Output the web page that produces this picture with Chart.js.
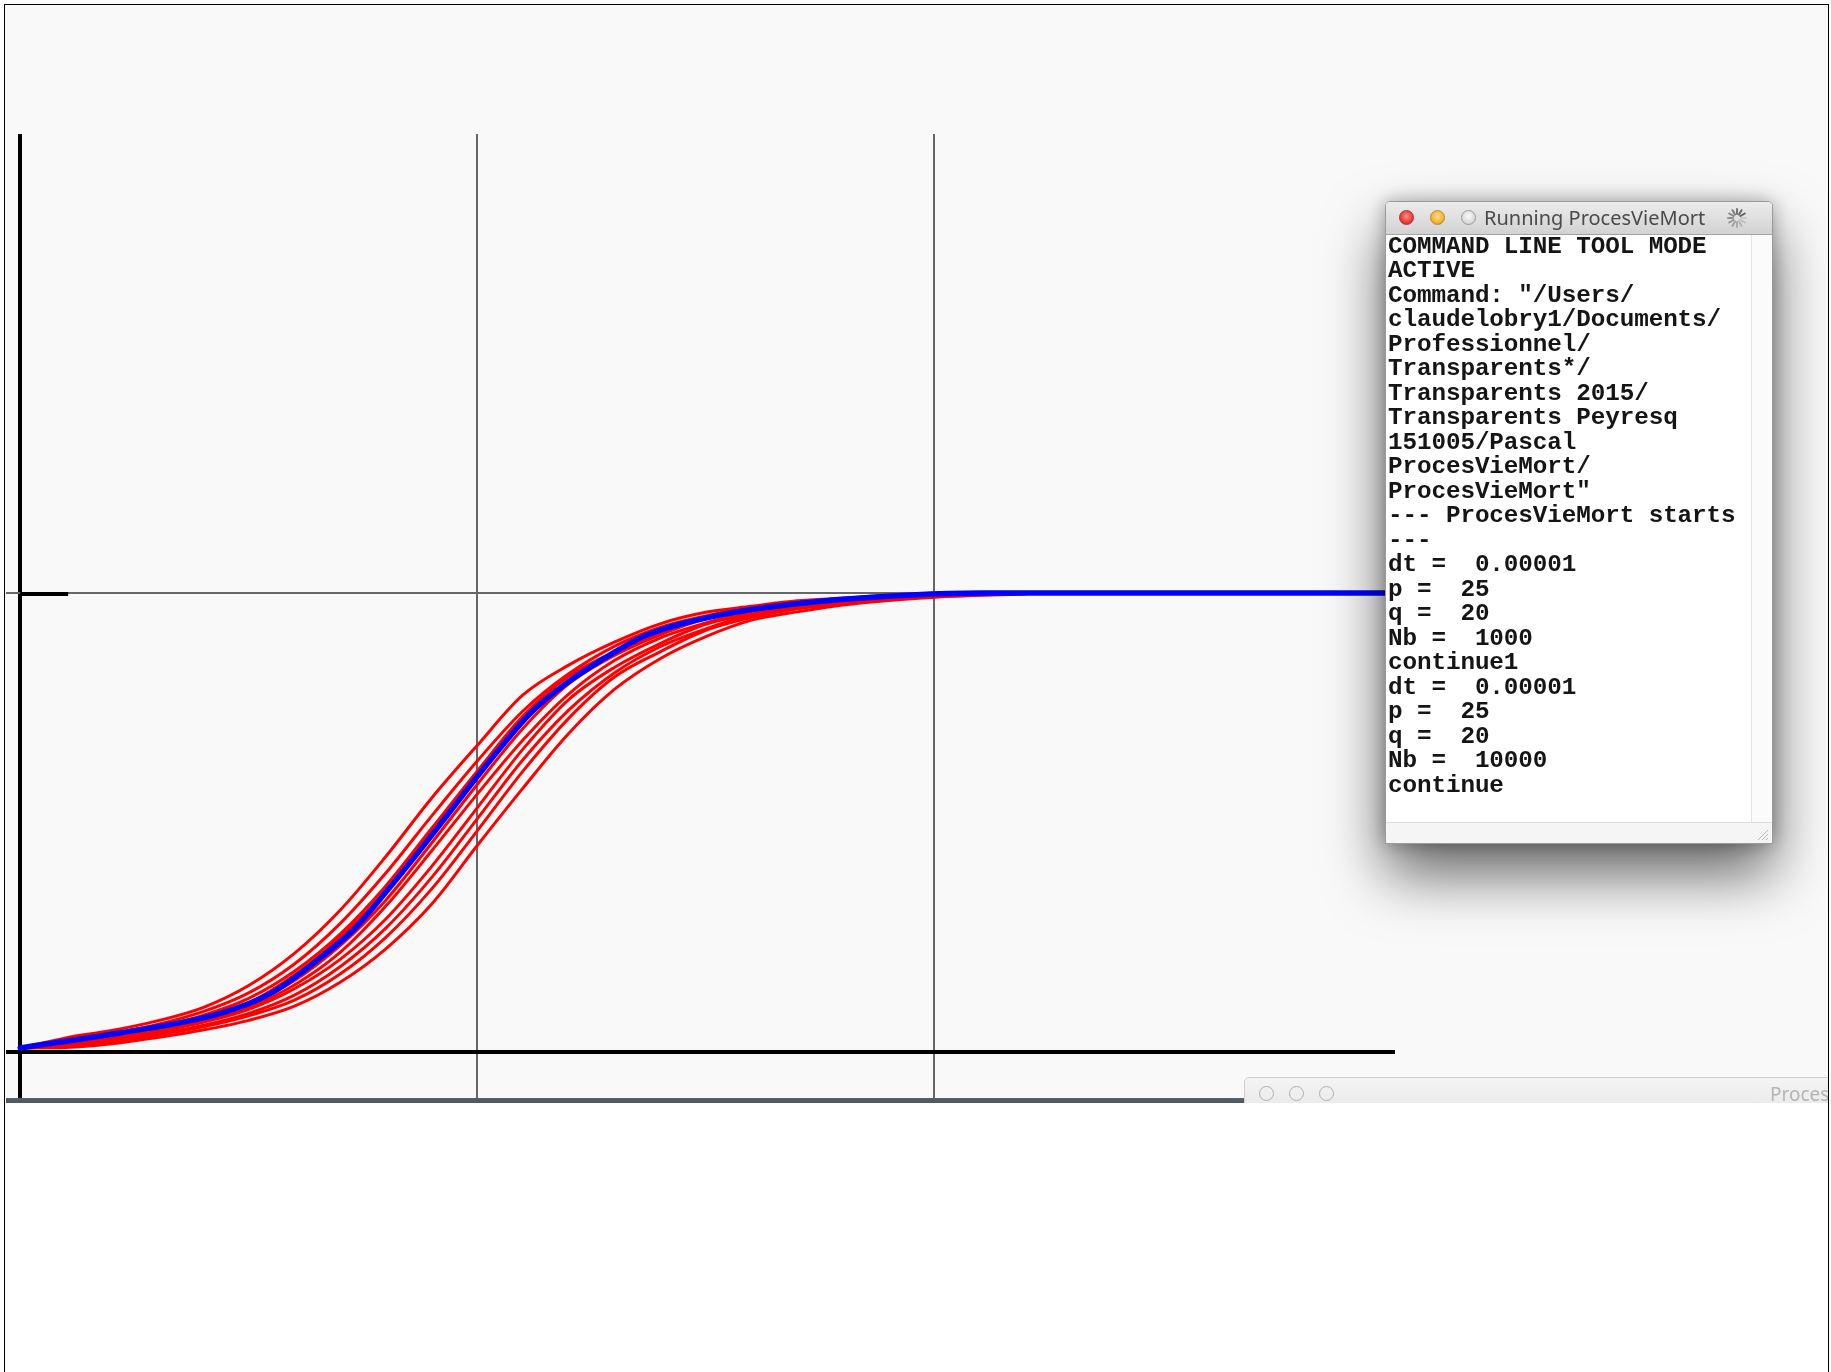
<!DOCTYPE html>
<html>
<head>
<meta charset="utf-8">
<title>ProcesVieMort</title>
<script src="https://cdn.jsdelivr.net/npm/chart.js@4.4.0/dist/chart.umd.min.js"></script>
<style>
  html, body { margin: 0; padding: 0; background: #fff; }
  body { width: 1831px; height: 1372px; position: relative; overflow: hidden; }
  #frame { position: absolute; left: 4px; top: 4px; width: 1823px; height: 1380px;
    border-left: 1px solid #000; border-top: 1px solid #000; border-right: 1px solid #000; }
  #screen { position: absolute; left: 5px; top: 5px; width: 1823px; height: 1098px;
    background: #f9f9f9; overflow: hidden; }
  #plot { position: absolute; left: -5px; top: -5px; }
  #bar { position: absolute; left: 1px; top: 1093px; width: 1238px; height: 7px;
    background: linear-gradient(#56616b, #46515b); }
  #term { position: absolute; left: 1380px; top: 196px; width: 386px; height: 641px;
    background: #fff; border: 1px solid #9a9a9a; border-radius: 5px 5px 0 0;
    box-shadow: 0 30px 60px rgba(0,0,0,0.6), 0 0 18px rgba(0,0,0,0.3); overflow: hidden; }
  #term .title { height: 32px; background: linear-gradient(#ececec, #d2d2d2);
    border-bottom: 1px solid #a3a3a3; position: relative;
    font-family: "Noto Sans", "DejaVu Sans", sans-serif; font-size: 20px; color: #4a4a4a; }
  .dot { position: absolute; top: 8px; width: 15px; height: 15px; border-radius: 50%; box-sizing: border-box; }
  .title span.t { position: absolute; left: 98px; top: 2px; }
  #term .body { position: absolute; left: 0; top: 33px; width: 364px; height: 588px;
    padding-left: 2px; font-family: "Liberation Mono", "Courier New", monospace;
    font-weight: bold; font-size: 24.3px; line-height: 24.48px; color: #151515;
    white-space: pre; overflow: hidden; letter-spacing: -0.1px; }
  #term .vscroll { position: absolute; right: 0; top: 33px; width: 20px; height: 588px;
    background: #fbfbfb; border-left: 1px solid #e4e4e4; }
  #term .status { position: absolute; left: 0; bottom: 0; width: 100%; height: 20px;
    background: #f5f5f5; border-top: 1px solid #dcdcdc; }
  #back { position: absolute; left: 1239px; top: 1072px; width: 620px; height: 40px;
    background: linear-gradient(#f4f4f4, #e6e6e6); border: 1px solid #cfcfcf; border-radius: 5px 5px 0 0;
    font-family: "Noto Sans", "DejaVu Sans", sans-serif; font-size: 19px; color: #b4b4b4; }
  #back .ring { position: absolute; top: 8px; width: 13px; height: 13px; border-radius: 50%;
    border: 1.5px solid #b0b0b0; }
</style>
</head>
<body>
<div id="frame"></div>
<div id="screen">
  <canvas id="plot" width="1831" height="1110"></canvas>
  <div id="bar"></div>
  <div id="term">
    <div class="title">
      <div class="dot" style="left:13px;border:1px solid #b0302a;background:radial-gradient(circle at 50% 40%,#ff8a80,#e0332a 70%,#b52a22);"></div>
      <div class="dot" style="left:44px;border:1px solid #c08a20;background:radial-gradient(circle at 50% 40%,#ffe08a,#f0a927 70%,#c98a18);"></div>
      <div class="dot" style="left:75px;border:1px solid #9a9a9a;background:radial-gradient(circle at 50% 40%,#fafafa,#d8d8d8 70%,#b8b8b8);"></div>
      <span class="t">Running ProcesVieMort</span>
      <svg style="position:absolute;left:340px;top:5px" width="22" height="22" viewBox="-11 -11 22 22" id="spin"></svg>
    </div>
    <div class="body" id="log"></div>
    <div class="vscroll"></div>
    <div class="status">
      <svg style="position:absolute;right:3px;bottom:2px" width="14" height="14">
        <path d="M13 3 L3 13 M13 7 L7 13 M13 11 L11 13" stroke="#b5b5b5" stroke-width="1"/>
      </svg>
    </div>
  </div>
  <div id="back">
    <div class="ring" style="left:14px"></div>
    <div class="ring" style="left:44px"></div>
    <div class="ring" style="left:74px"></div>
    <span style="position:absolute;left:525px;top:3px">Proces</span>
  </div>
</div>

<script>
// axes / ticks
const xTicks = [0, 1, 2];
const yTicks = [0, 1];

// courbe deterministe (bleue)
const blueX = [0, 0.22, 0.44, 0.55, 0.66, 0.73, 0.80, 0.875, 0.94, 1.0, 1.05, 1.12, 1.2, 1.27, 1.37, 1.52, 1.66, 1.81, 1.95, 2.1, 3.0];
const blueY = [0.009, 0.042, 0.085, 0.129, 0.208, 0.267, 0.348, 0.440, 0.523, 0.600, 0.662, 0.742, 0.807, 0.853, 0.908, 0.950, 0.972, 0.987, 0.996, 1.0, 1.0];

// trajectoires stochastiques (rouges)
const redX = [0, 0.1, 0.2, 0.3, 0.4, 0.5, 0.6, 0.7, 0.8, 0.9, 1.0, 1.1, 1.2, 1.3, 1.4, 1.5, 1.6, 1.7, 1.8, 1.9, 2.0, 2.1, 2.2];
const run1 = [0.009, 0.031, 0.047, 0.068, 0.097, 0.145, 0.215, 0.309, 0.426, 0.553, 0.668, 0.778, 0.843, 0.893, 0.933, 0.958, 0.971, 0.983, 0.989, 0.995, 0.998, 1.0, 1.0];
const run2 = [0.009, 0.024, 0.040, 0.060, 0.088, 0.129, 0.192, 0.280, 0.390, 0.514, 0.634, 0.743, 0.824, 0.884, 0.925, 0.950, 0.969, 0.979, 0.988, 0.994, 0.997, 0.999, 1.0];
const run3 = [0.009, 0.022, 0.039, 0.055, 0.080, 0.117, 0.176, 0.257, 0.362, 0.487, 0.612, 0.732, 0.818, 0.872, 0.919, 0.947, 0.966, 0.977, 0.987, 0.993, 0.996, 1.0, 1.0];
const run4 = [0.009, 0.018, 0.033, 0.051, 0.072, 0.103, 0.156, 0.232, 0.331, 0.455, 0.583, 0.705, 0.802, 0.864, 0.909, 0.944, 0.961, 0.976, 0.984, 0.991, 0.995, 0.999, 1.0];
const run5 = [0.009, 0.017, 0.032, 0.046, 0.067, 0.097, 0.146, 0.217, 0.318, 0.438, 0.562, 0.680, 0.780, 0.853, 0.902, 0.935, 0.960, 0.972, 0.983, 0.990, 0.996, 0.998, 1.0];
const run6 = [0.009, 0.015, 0.028, 0.045, 0.065, 0.093, 0.138, 0.202, 0.290, 0.404, 0.532, 0.660, 0.768, 0.838, 0.890, 0.932, 0.954, 0.971, 0.981, 0.989, 0.994, 0.997, 1.0];
const run7 = [0.009, 0.013, 0.026, 0.040, 0.058, 0.084, 0.124, 0.186, 0.270, 0.380, 0.508, 0.637, 0.745, 0.826, 0.883, 0.922, 0.952, 0.967, 0.980, 0.987, 0.993, 0.998, 1.0];
const run8 = [0.009, 0.012, 0.022, 0.037, 0.055, 0.079, 0.113, 0.170, 0.250, 0.355, 0.482, 0.612, 0.727, 0.817, 0.872, 0.919, 0.947, 0.966, 0.977, 0.987, 0.992, 0.996, 0.999];
const run9 = [0.009, 0.010, 0.018, 0.032, 0.048, 0.069, 0.100, 0.152, 0.225, 0.322, 0.450, 0.575, 0.694, 0.790, 0.857, 0.905, 0.941, 0.959, 0.974, 0.984, 0.991, 0.995, 0.998];
const run10 = [0.009, 0.021, 0.036, 0.050, 0.071, 0.107, 0.168, 0.250, 0.352, 0.480, 0.604, 0.718, 0.806, 0.866, 0.913, 0.945, 0.965, 0.978, 0.986, 0.992, 0.997, 1.0, 1.0];
const runs = [run1, run2, run3, run4, run5, run6, run7, run8, run9, run10];

// sortie console
const logLines = [
  'COMMAND LINE TOOL MODE', 'ACTIVE', 'Command: "/Users/', 'claudelobry1/Documents/',
  'Professionnel/', 'Transparents*/', 'Transparents 2015/', 'Transparents Peyresq',
  '151005/Pascal', 'ProcesVieMort/', 'ProcesVieMort"', '--- ProcesVieMort starts', '---',
  'dt =  0.00001', 'p =  25', 'q =  20', 'Nb =  1000', 'continue1',
  'dt =  0.00001', 'p =  25', 'q =  20', 'Nb =  10000', 'continue'
];
document.getElementById('log').textContent = logLines.join('\n');

// petit spinner
const spin = document.getElementById('spin');
let s = '';
for (let i = 0; i < 12; i++) {
  const a = i * Math.PI / 6;
  s += `<line x1="${(4*Math.cos(a)).toFixed(2)}" y1="${(4*Math.sin(a)).toFixed(2)}" x2="${(9*Math.cos(a)).toFixed(2)}" y2="${(9*Math.sin(a)).toFixed(2)}" stroke="#555" stroke-width="2" stroke-linecap="round" opacity="${(0.15 + i*0.07).toFixed(2)}"/>`;
}
spin.innerHTML = s;

const toPoints = (xs, ys) => xs.map((x, i) => ({x, y: ys[i]}));

const datasets = [{
  data: toPoints(blueX, blueY),
  borderColor: '#0000ff',
  borderWidth: 5.5,
  order: 0
}];
runs.forEach((r, i) => datasets.push({
  data: toPoints(redX, r),
  borderColor: '#ff0000',
  borderWidth: 3,
  order: i + 1
}));

// petit trait noir sur l'axe vertical en y = 1
const unitTick = {
  id: 'unitTick',
  afterDatasetsDraw(chart) {
    const {ctx, scales: {x, y}} = chart;
    const px = x.getPixelForValue(0), py = y.getPixelForValue(1);
    ctx.save();
    ctx.strokeStyle = '#000';
    ctx.lineWidth = 4;
    ctx.beginPath();
    ctx.moveTo(px, py + 1);
    ctx.lineTo(px + 48, py + 1);
    ctx.stroke();
    ctx.restore();
  }
};

const gridColor = c => c.tick && c.tick.value === 0 ? '#000' : '#666';
const gridWidth = c => c.tick && c.tick.value === 0 ? 4 : 2;

new Chart(document.getElementById('plot'), {
  type: 'line',
  data: {datasets},
  plugins: [unitTick],
  options: {
    responsive: false,
    animation: false,
    devicePixelRatio: 1,
    layout: {padding: {left: 6, top: 134, right: 436, bottom: 12}},
    elements: {
      point: {radius: 0},
      line: {cubicInterpolationMode: 'monotone', fill: false, borderCapStyle: 'round'}
    },
    plugins: {legend: {display: false}, tooltip: {enabled: false}},
    scales: {
      x: {
        type: 'linear', min: -0.031, max: 3.008,
        afterBuildTicks: sc => { sc.ticks = xTicks.map(v => ({value: v})); },
        ticks: {display: false},
        border: {display: false},
        grid: {drawTicks: false, color: gridColor, lineWidth: gridWidth}
      },
      y: {
        type: 'linear', min: -0.1, max: 2.0,
        afterBuildTicks: sc => { sc.ticks = yTicks.map(v => ({value: v})); },
        ticks: {display: false},
        border: {display: false},
        grid: {drawTicks: false, color: gridColor, lineWidth: gridWidth}
      }
    }
  }
});
</script>
</body>
</html>
